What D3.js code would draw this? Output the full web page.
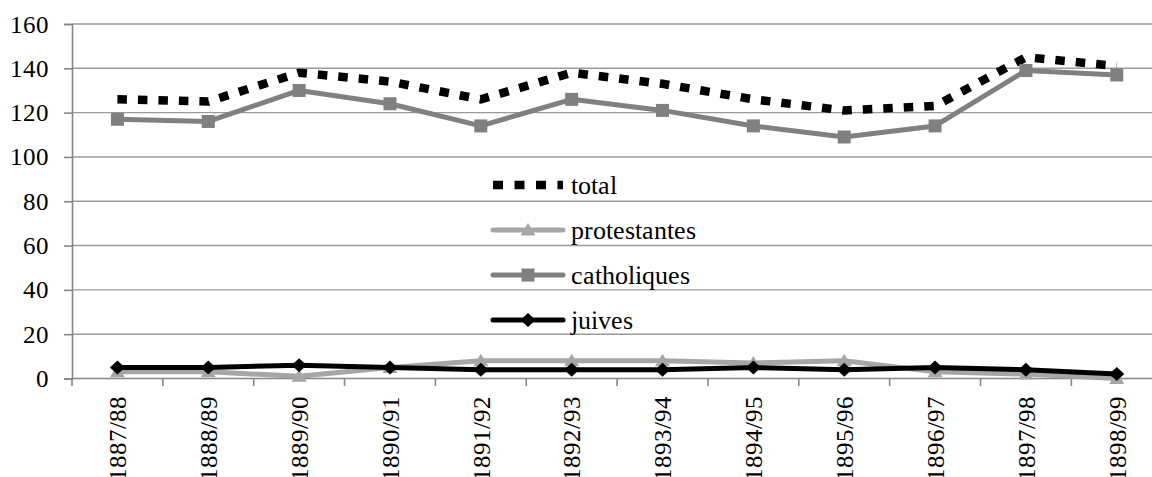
<!DOCTYPE html>
<html><head><meta charset="utf-8">
<script src="https://cdn.jsdelivr.net/npm/d3@7/dist/d3.min.js"></script>
<style>
@font-face { font-family: "ChartSerif"; src: local("Liberation Serif"), local("LiberationSerif"), local("Tinos"), local("Times New Roman"); }
</style>
</head>
<body style="margin:0;padding:0;background:#fff">
<svg id="chart" width="1152" height="477" style="display:block"></svg>
<script>
const categories = ["1887/88","1888/89","1889/90","1890/91","1891/92","1892/93","1893/94","1894/95","1895/96","1896/97","1897/98","1898/99"];
const total = [126,125,138,134,126,138,133,126,121,123,145,141];
const protestantes = [3,3,1,5,8,8,8,7,8,3,2,0];
const catholiques = [117,116,130,124,114,126,121,114,109,114,139,137];
const juives = [5,5,6,5,4,4,4,5,4,5,4,2];
const yTicks = [0,20,40,60,80,100,120,140,160];
const seriesNames = ["total","protestantes","catholiques","juives"];

(function(){
const FONT = 'ChartSerif, "Liberation Serif", serif';
const svg = d3.select("#chart");
const mLeft = 72, mTop = 24, mBottom = 378.5;
const bandW = 90.85;
const mRight = mLeft + categories.length * bandW;

const x = d3.scaleBand().domain(categories).range([mLeft, mRight]).padding(0);
const y = d3.scaleLinear().domain([0,160]).range([mBottom, mTop]);
const cx = d => x(d) + x.bandwidth()/2;

svg.append("g").selectAll("line").data(yTicks.filter(t=>t>0)).join("line")
  .attr("x1", mLeft).attr("x2", 1152).attr("y1", d=>y(d)).attr("y2", d=>y(d))
  .attr("stroke", "#9a9a9a").attr("stroke-width", 1.4);

const yAxis = svg.append("g").attr("transform", `translate(${mLeft},0)`)
  .call(d3.axisLeft(y).tickValues(yTicks).tickSize(8).tickPadding(15).tickFormat(d3.format("d")));
yAxis.attr("font-family", null).attr("font-size", null);
yAxis.select(".domain").attr("stroke", "#868686").attr("stroke-width", 1.6);
yAxis.selectAll(".tick line").attr("stroke", "#868686").attr("stroke-width", 1.6);
yAxis.selectAll(".tick text").style("font-size", "25px").style("font-family", FONT).attr("fill","#000");

const xAxis = svg.append("g").attr("transform", `translate(0,${mBottom})`);
xAxis.append("line").attr("x1", mLeft).attr("x2", 1152).attr("y1", 0).attr("y2", 0)
  .attr("stroke", "#868686").attr("stroke-width", 1.6);
const bounds = d3.range(categories.length + 1).map(i => mLeft + i * bandW);
xAxis.selectAll("line.tk").data(bounds).join("line").attr("class","tk")
  .attr("x1", d=>d).attr("x2", d=>d).attr("y1", 0).attr("y2", 7.5)
  .attr("stroke", "#868686").attr("stroke-width", 1.6);
xAxis.selectAll("text").data(categories).join("text")
  .attr("transform", d => `translate(${cx(d)},${396 - mBottom}) rotate(-90)`)
  .attr("text-anchor", "end").attr("dy", "0.35em").attr("fill","#000")
  .style("font-family", FONT).style("font-size", "25px").text(d => d);

const line = d3.line().x((d,i)=>cx(categories[i])).y(d=>y(d));

svg.append("path").datum(total).attr("d", line).attr("fill","none")
  .attr("stroke","#000").attr("stroke-width", 8.5).attr("stroke-dasharray","9.5,11");

function triangle(g, px, py, color){
  g.append("path").attr("d", `M${px},${py-7}L${px+7.5},${py+5.5}L${px-7.5},${py+5.5}Z`).attr("fill", color);
}
function square(g, px, py, color){
  g.append("rect").attr("x", px-6.5).attr("y", py-6.5).attr("width", 13).attr("height", 13).attr("fill", color);
}
function diamond(g, px, py, color){
  g.append("path").attr("d", `M${px},${py-7}L${px+7.5},${py}L${px},${py+7}L${px-7.5},${py}Z`).attr("fill", color);
}

const specs = [
  {data: protestantes, color: "#a6a6a6", marker: triangle},
  {data: catholiques, color: "#808080", marker: square},
  {data: juives, color: "#000000", marker: diamond}
];
specs.forEach(s => {
  const g = svg.append("g");
  g.append("path").datum(s.data).attr("d", line).attr("fill","none")
    .attr("stroke", s.color).attr("stroke-width", 5).attr("stroke-linejoin","round");
  s.data.forEach((v,i) => s.marker(g, cx(categories[i]), y(v), s.color));
});

const legY = [185, 230, 275, 320];
const lx1 = 493, lx2 = 563;
const leg = svg.append("g");
leg.append("line").attr("x1", lx1).attr("x2", lx2).attr("y1", legY[0]).attr("y2", legY[0])
  .attr("stroke","#000").attr("stroke-width", 8.5).attr("stroke-dasharray","10,11.5");
specs.forEach((s,i) => {
  const yy = legY[i+1];
  leg.append("line").attr("x1", lx1).attr("x2", lx2).attr("y1", yy).attr("y2", yy)
    .attr("stroke", s.color).attr("stroke-width", 5).attr("stroke-linecap","round");
  s.marker(leg, (lx1+lx2)/2, yy, s.color);
});
leg.selectAll("text").data(seriesNames).join("text")
  .attr("x", 571).attr("y", (d,i)=>legY[i]).attr("dy","0.35em").attr("fill","#000")
  .style("font-family", FONT).style("font-size", "26px").text(d=>d);
})();
</script>
</body></html>
